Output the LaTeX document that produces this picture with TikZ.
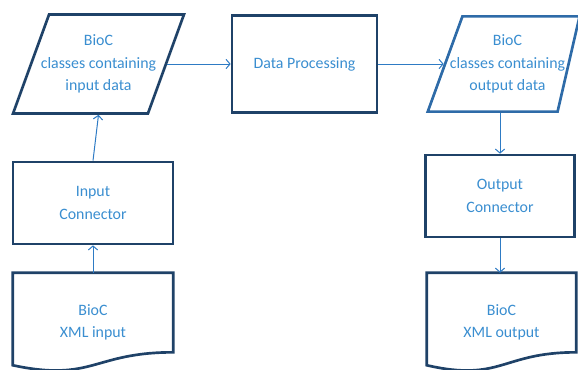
\documentclass[tikz,border=0pt]{standalone}
\usepackage{fontspec}
\setmainfont{Carlito}
\usetikzlibrary{shapes.geometric,arrows.meta}
\definecolor{boxline}{HTML}{1F4268}
\definecolor{boxline2}{HTML}{2E6BA8}
\definecolor{boxtext}{HTML}{3A8ED0}
\definecolor{arrline}{HTML}{2E7BC4}
% document shape with wavy bottom
\newcommand\drawdoc[1]{%
  \draw[docline] ([yshift=4.9pt]#1.south west) -- (#1.north west) -- (#1.north east)
    -- ([yshift=14.6pt]#1.south east)
    .. controls ([yshift=14.6pt]#1.south) and ([yshift=-7.9pt]#1.south) .. ([yshift=4.9pt]#1.south west) -- cycle;}

\begin{document}
\begin{tikzpicture}[x=0.75pt,y=-0.75pt,
    txt/.style={text=boxtext,align=center,font=\fontsize{11.9}{17}\selectfont,inner sep=0pt},
    box/.style={txt,draw=boxline,line width=2pt},
    iobox/.style={draw=boxline,line width=2pt,inner sep=1pt,trapezium,trapezium left angle=70,trapezium right angle=110,
      minimum height=71.25pt,minimum width=128.25pt},
    docline/.style={draw=boxline,line width=2pt},
    arr/.style={draw=arrline,line width=0.75pt,-{Straight Barb[length=3pt,width=7pt]}}]
    \clip (0,0) rectangle (578,369);
    % top row
    \node[iobox] (indata) at (98.5,64) {};
    \node[txt] (indatatxt) at (indata.center) {BioC\\classes containing\\input data};
    \node[box,minimum width=108.75pt,minimum height=72.75pt] (proc) at (304.5,64) {Data Processing};
    \node[iobox,draw=boxline2,trapezium right angle=103,minimum width=114pt] (outdata) at (510,64) {};
    \node[txt] (outdatatxt) at ([xshift=-1.9pt]outdata.center) {BioC\\classes containing\\output data};
    % connectors
    \node[box,minimum width=120pt,minimum height=61.5pt] (inconn) at (93,203) {Input\\Connector};
    \node[box,minimum width=111.75pt,minimum height=61.5pt] (outconn) at (500,196) {Output\\Connector};
    % xml documents
    \node[txt,minimum width=120pt,minimum height=73.9pt] (indoc) at (93,322.25) {BioC\\XML input};
    \node[txt,minimum width=111.75pt,minimum height=73.9pt] (outdoc) at (501.5,322.25) {BioC\\XML output};
    \drawdoc{indoc}
    \drawdoc{outdoc}
    % arrows
    \draw[arr] (indoc.north) -- (inconn.south);
    \draw[arr] (inconn.north) -- (indata.south);
    \draw[arr] (indata) -- (proc);
    \draw[arr] (proc) -- (outdata);
    \draw[arr] (outconn.north |- outdata.south) -- (outconn.north);
    \draw[arr] (outconn.south) -- (outconn.south |- outdoc.north);
\end{tikzpicture}
\end{document}
